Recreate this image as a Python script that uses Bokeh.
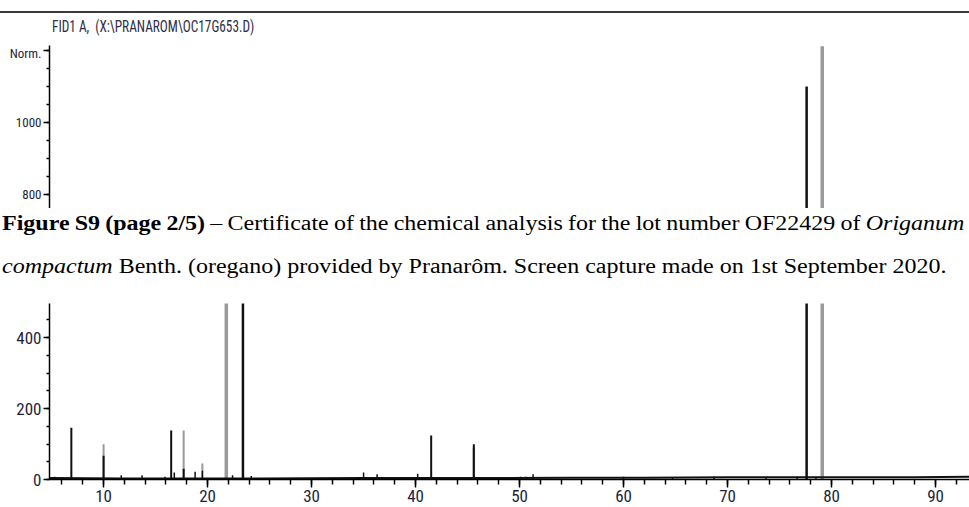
from bokeh.plotting import figure
from bokeh.models import Div, FixedTicker, Range1d, ColumnDataSource
from bokeh.layouts import column
from bokeh.embed import file_html
from bokeh.resources import INLINE

# --- chromatogram data (retention time in min, response in Norm.) ---
black_rt = [5.3, 6.1, 6.9, 10.0, 11.7, 13.7, 15.9, 16.5, 16.8, 17.7, 18.8, 19.5,
            22.4, 23.4, 24.2, 35.0, 36.3, 40.2, 41.5, 45.6, 46.3, 50.1, 50.6,
            51.3, 60.0, 64.7, 68.7, 73.7, 76.7, 77.6, 78.5]
black_h = [8, 6, 146, 67, 12, 12, 8, 138, 20, 30, 22, 25,
           12, 700, 10, 20, 15, 16, 124, 99, 6, 8, 8,
           15, 8, 5, 8, 5, 8, 1100, 5]
black_w = [1.5, 1.5, 2, 2, 1.5, 1.5, 1.5, 2, 1.5, 2, 1.5, 1.5,
           1.5, 2.5, 1.5, 1.5, 1.5, 1.5, 2, 2, 1.5, 1.5, 1.5,
           1.5, 1.5, 1.5, 1.5, 1.5, 1.5, 2.5, 1.5]

gray_rt = [10.0, 17.7, 19.5, 21.8, 45.6, 79.1]
gray_h = [99, 138, 45, 640, 90, 1212]
gray_w = [2, 2, 2, 3.5, 2.5, 3.5]

baseline_rt = [4.8, 12, 25, 35, 45, 55, 62, 70, 80, 88, 93.3]
baseline_y = [4, 3, 3, 4, 4, 5, 5, 6, 6, 6, 8]

x_ticks = [10, 20, 30, 40, 50, 60, 70, 80, 90]
x_minor = [6, 8, 10, 12, 14, 16, 18, 20, 22, 24, 26, 28, 30, 32, 34, 36, 38, 40,
           42, 44, 46, 48, 50, 52, 54, 56, 58, 60, 62, 64, 66, 68, 70, 72, 74,
           76, 78, 80, 82, 84, 86, 88, 90, 92]
top_ticks = [800, 1000, 1200]
top_minor = [800, 850, 900, 950, 1000, 1050, 1100, 1150, 1200]
low_ticks = [0, 200, 400]
low_minor = [0, 50, 100, 150, 200, 250, 300, 350, 400, 450]

NARROW = "'Liberation Sans Narrow', 'Arial Narrow', 'Roboto Condensed', sans-serif"
LABEL_COLOR = "#1e1e3c"

black_src = ColumnDataSource(dict(rt=black_rt, h=black_h, w=black_w,
                                  z=[0] * len(black_rt)))
gray_src = ColumnDataSource(dict(rt=gray_rt, h=gray_h, w=gray_w,
                                 z=[0] * len(gray_rt)))

x_range = Range1d(4.8, 93.26)


def trace(p):
    p.segment(x0="rt", y0="z", x1="rt", y1="h", source=gray_src,
              line_color="#9a9a9a", line_width="w")
    p.line(baseline_rt, baseline_y, line_color="#111111", line_width=2)
    p.segment(x0="rt", y0="z", x1="rt", y1="h", source=black_src,
              line_color="#111111", line_width="w")


def style_axis(ax, size):
    ax.axis_line_color = "black"
    ax.axis_line_width = 1.5
    ax.major_tick_line_color = "black"
    ax.major_tick_line_width = 1.5
    ax.minor_tick_line_color = "black"
    ax.minor_tick_line_width = 1.5
    ax.major_tick_in = 0
    ax.minor_tick_in = 0
    ax.major_label_text_font = NARROW
    ax.major_label_text_font_size = size
    ax.major_label_text_color = LABEL_COLOR


# upper part of the signal (y 761 .. 1214)
top = figure(width=969, height=163, x_range=x_range, y_range=Range1d(761, 1214),
             output_backend="svg", toolbar_location=None, x_axis_location=None,
             min_border_left=49, min_border_right=0, min_border_top=0,
             min_border_bottom=0)
top.outline_line_color = None
top.grid.visible = False
trace(top)
top.yaxis.ticker = FixedTicker(ticks=top_ticks, minor_ticks=top_minor)
top.yaxis.major_label_overrides = {1200: "Norm."}
style_axis(top.yaxis, "13px")
top.yaxis.major_tick_out = 6
top.yaxis.minor_tick_out = 3
top.yaxis.major_label_standoff = 2

# lower part of the signal (y 0 .. 496)
low = figure(width=969, height=204, x_range=x_range, y_range=Range1d(0, 496),
             output_backend="svg", toolbar_location=None,
             min_border_left=49, min_border_right=0, min_border_top=0,
             min_border_bottom=28)
low.outline_line_color = None
low.grid.visible = False
trace(low)
low.yaxis.ticker = FixedTicker(ticks=low_ticks, minor_ticks=low_minor)
low.xaxis.ticker = FixedTicker(ticks=x_ticks, minor_ticks=x_minor)
style_axis(low.yaxis, "17px")
style_axis(low.xaxis, "17px")
low.yaxis.major_tick_out = 6
low.yaxis.minor_tick_out = 3
low.yaxis.major_label_standoff = 2
low.xaxis.major_tick_out = 8
low.xaxis.minor_tick_out = 5
low.xaxis.major_label_standoff = 2

header = Div(width=969, height=45, margin=(0, 0, 0, 0), text=(
    '<div style="position:relative;width:969px;height:45px;">'
    '<div style="position:absolute;left:0;top:11px;width:969px;height:2px;'
    'background:#3a3a3a"></div>'
    '<div style="position:absolute;left:52px;top:16px;font-family:'
    + NARROW.replace("'", "&quot;") +
    ';font-size:16px;color:#2e2e4a;white-space:nowrap;'
    'transform:scaleX(0.83);transform-origin:0 0">'
    'FID1 A,&nbsp; (X:\\PRANAROM\\OC17G653.D)</div></div>'))

caption = Div(width=969, height=95, margin=(0, 0, 0, 0), text=(
    '<div style="font-family:&quot;Liberation Serif&quot;,serif;font-size:20px;'
    'line-height:43px;color:#000;margin-top:-6px;margin-left:2px;width:802px;'
    'transform:scaleX(1.2);transform-origin:0 0">'
    '<div style="width:802px;text-align:justify;text-align-last:justify;'
    'word-spacing:-0.9px;white-space:nowrap"><b>Figure S9 (page 2/5)</b> '
    '&ndash; Certificate of the '
    'chemical analysis for the lot number OF22429 of <i>Origanum</i></div>'
    '<div style="white-space:nowrap"><i>compactum</i> Benth. (oregano) provided by '
    'Pranar&ocirc;m. Screen capture made on 1st September 2020.</div></div>'))

layout = column(header, top, caption, low, spacing=0)

open("out.html", "w").write(file_html(layout, INLINE))
